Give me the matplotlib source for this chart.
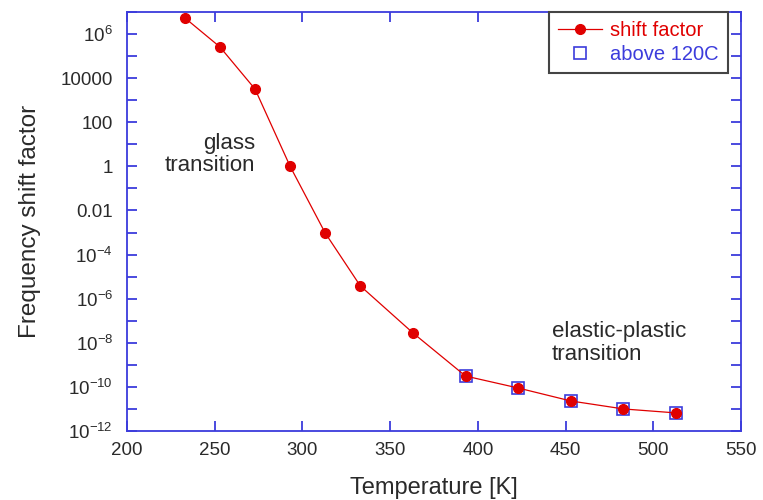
import matplotlib
matplotlib.use("Agg")
import matplotlib.pyplot as plt
from matplotlib.ticker import FixedLocator, FuncFormatter
import math

# temperature [K] and frequency shift factor
temps = [233, 253, 273, 293, 313, 333, 363, 393, 423, 453, 483, 513]
shift = [5.4e6, 2.6e5, 3.2e3, 1.0, 9.5e-4, 3.8e-6, 2.8e-8,
         3.1e-10, 8.9e-11, 2.3e-11, 1.0e-11, 6.6e-12]
# points above 120 C (393 K)
hot_temps = [393, 423, 453, 483, 513]
hot_shift = [3.1e-10, 8.9e-11, 2.3e-11, 1.0e-11, 6.6e-12]

x_ticks = [200, 250, 300, 350, 400, 450, 500, 550]
y_labels = {6: r"10$^{6}$", 4: "10000", 2: "100", 0: "1", -2: "0.01",
            -4: r"10$^{-4}$", -6: r"10$^{-6}$", -8: r"10$^{-8}$",
            -10: r"10$^{-10}$", -12: r"10$^{-12}$"}

RED = "#e00000"
BLUE = "#3c3cdc"
TXT = "#2a2a2a"

plt.rcParams["font.family"] = ["Liberation Sans", "DejaVu Sans"]
plt.rcParams["mathtext.default"] = "regular"

fig = plt.figure(figsize=(7.63, 5.0), dpi=100)
ax = fig.add_axes([0.1664, 0.138, 0.8048, 0.838])

ax.plot(temps, shift, color=RED, lw=0.9, marker="o", ms=7,
        markeredgecolor=RED, label="shift factor", zorder=3)
ax.plot(hot_temps, hot_shift, ls="none", marker="s", ms=9,
        markerfacecolor="none", markeredgecolor=BLUE, mew=1.2,
        label="above 120C", zorder=2)

ax.set_yscale("log")
ax.set_xlim(200, 550)
ax.set_ylim(1e-12, 1e7)

ax.xaxis.set_major_locator(FixedLocator(x_ticks))
ax.yaxis.set_major_locator(FixedLocator([10.0 ** k for k in range(-12, 8)]))
ax.yaxis.set_minor_locator(FixedLocator([]))


def ylab(v, pos):
    k = int(round(math.log10(v)))
    return y_labels.get(k, "")


ax.yaxis.set_major_formatter(FuncFormatter(ylab))

for s in ax.spines.values():
    s.set_color(BLUE)
    s.set_linewidth(1.3)
ax.tick_params(which="both", direction="in", top=True, right=True,
               length=7, width=1.3, color=BLUE, labelsize=13.5,
               labelcolor=TXT)
ax.tick_params(axis="y", pad=10)
ax.tick_params(axis="x", pad=8)

ax.set_xlabel("Temperature [K]", fontsize=17, color=TXT, labelpad=13)
ax.set_ylabel("Frequency shift factor", fontsize=17.5, color=TXT, labelpad=14)

ax.text(273, 3.6, "glass\ntransition", ha="right", va="center",
        multialignment="right", fontsize=16, color=TXT, linespacing=1.05)
ax.text(442, 1.0e-8, "elastic-plastic\ntransition", ha="left", va="center",
        fontsize=16, color=TXT, linespacing=1.12)

leg = ax.legend(loc="upper right", bbox_to_anchor=(728 / 763, 1 - 12 / 500),
                bbox_transform=fig.transFigure, fontsize=14.5, frameon=True,
                fancybox=False, framealpha=1, handlelength=2.2,
                handletextpad=0.4, borderpad=0.45, labelspacing=0.25,
                borderaxespad=0)
leg.get_frame().set_edgecolor("#444444")
leg.get_frame().set_linewidth(1.5)
for t, c in zip(leg.get_texts(), [RED, BLUE]):
    t.set_color(c)

fig.savefig("out.png", dpi=100)
